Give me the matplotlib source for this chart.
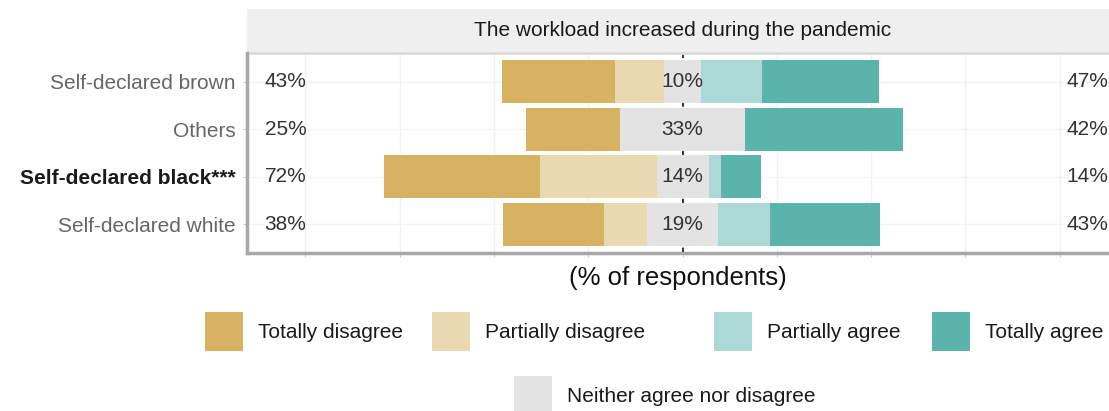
import matplotlib
matplotlib.use("Agg")
import matplotlib.pyplot as plt
from matplotlib.patches import Rectangle
import numpy as np

plt.rcParams['font.family'] = ['Liberation Sans', 'DejaVu Sans']

# ---- data ----
groups = ["Self-declared brown", "Others", "Self-declared black***", "Self-declared white"]
totally_disagree = [30.0, 25.0, 41.4, 27.0]
partially_disagree = [12.8, 0.0, 30.8, 11.2]
neutral = [10.0, 33.0, 13.8, 19.0]
partially_agree = [16.2, 0.0, 3.4, 13.8]
totally_agree = [31.0, 42.0, 10.6, 29.0]

levels = ["Totally disagree", "Partially disagree", "Neither agree nor disagree",
          "Partially agree", "Totally agree"]
colors = {"Totally disagree": "#D8B263", "Partially disagree": "#EAD9B0",
          "Neither agree nor disagree": "#E3E3E3", "Partially agree": "#ACD9D5",
          "Totally agree": "#5AB4AB"}
title = "The workload increased during the pandemic"
xlabel = "(% of respondents)"
bold_group = "Self-declared black***"

W, H = 1109, 411
fig = plt.figure(figsize=(W / 100, H / 100), dpi=100)
ax = fig.add_axes([247 / W, 1 - 253 / H, (W - 247) / W, 200 / H])

td = np.array(totally_disagree)
pd_ = np.array(partially_disagree)
nn = np.array(neutral)
pa = np.array(partially_agree)
ta = np.array(totally_agree)
y = np.arange(len(groups), 0, -1)  # top to bottom
bh = 0.9

# grid
for gx in np.arange(-100, 101, 25):
    ax.axvline(gx, color="#F2F2F2", lw=1.0, zorder=0)
for gy in y:
    ax.axhline(gy, color="#F4F4F4", lw=1.0, zorder=0)
ax.axvline(0, color="#222222", lw=1.3, ls=(0, (3, 6)), zorder=1)

left_start = -(td + pd_ + nn / 2)
ax.barh(y, td, left=left_start, height=bh, color=colors[levels[0]], zorder=2)
ax.barh(y, pd_, left=left_start + td, height=bh, color=colors[levels[1]], zorder=2)
ax.barh(y, nn, left=-nn / 2, height=bh, color=colors[levels[2]], zorder=2)
ax.barh(y, pa, left=nn / 2, height=bh, color=colors[levels[3]], zorder=2)
ax.barh(y, ta, left=nn / 2 + pa, height=bh, color=colors[levels[4]], zorder=2)

fs = 15
for yi, a, b, c in zip(y, td + pd_, nn, pa + ta):
    ax.text(-105.3, yi, f"{round(a):d}%", ha="center", va="center", fontsize=fs, color="#333333", zorder=3)
    ax.text(0, yi, f"{round(b):d}%", ha="center", va="center", fontsize=fs, color="#333333", zorder=3)
    ax.text(107.3, yi, f"{round(c):d}%", ha="center", va="center", fontsize=fs, color="#333333", zorder=3)

ax.set_xlim(-115.5, 113.1)
ax.set_ylim(0.4, len(groups) + 0.6)
ax.set_yticks(y)
ax.set_yticklabels(groups, fontsize=fs, color="#666666")
for lab in ax.get_yticklabels():
    if lab.get_text() == bold_group:
        lab.set_fontweight("bold")
        lab.set_color("#1a1a1a")
ax.set_xticks(np.arange(-100, 101, 25))
ax.set_xticklabels([])
ax.tick_params(axis="both", length=3, width=0.8, color="#CCCCCC", pad=5)
for s in ["top", "right"]:
    ax.spines[s].set_visible(False)
for s in ["left", "bottom"]:
    ax.spines[s].set_color("#A8A8A8")
    ax.spines[s].set_linewidth(2.5)

ax.set_xlabel(xlabel, fontsize=18.5, color="#111111", labelpad=1)

# facet strip
strip_h = 44 / 200
ax.add_patch(Rectangle((0, 1), 1, strip_h, transform=ax.transAxes, facecolor="#EFEFEF",
                       edgecolor="none", clip_on=False, zorder=0))
ax.plot([0, 1], [1, 1], transform=ax.transAxes, color="#DADADA", lw=2, clip_on=False)
ax.text((682.5 - 247) / (W - 247), 1 + strip_h / 2, title, transform=ax.transAxes,
        ha="center", va="center", fontsize=fs, color="#1a1a1a")

# legend (manual layout)
key_w, key_h = 38 / W, 39 / H
leg = [(levels[0], 205, 312), (levels[1], 432, 312), (levels[3], 714, 312),
       (levels[4], 932, 312), (levels[2], 514, 376)]
for name, kx, ky in leg:
    fig.patches.append(Rectangle((kx / W, 1 - (ky + 39) / H), key_w, key_h,
                                 transform=fig.transFigure, facecolor=colors[name],
                                 edgecolor="none"))
    fig.text((kx + 53) / W, 1 - (ky + 20) / H, name, ha="left", va="center",
             fontsize=fs, color="#1a1a1a")

fig.savefig("out.png", dpi=100)
